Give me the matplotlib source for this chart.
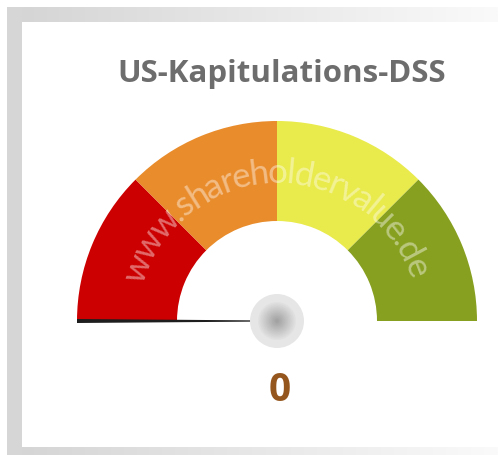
import matplotlib
matplotlib.use('Agg')
import matplotlib.pyplot as plt
import numpy as np
from matplotlib.patches import Wedge, Circle, Rectangle, Polygon
from matplotlib.font_manager import FontProperties, findfont
from matplotlib.ft2font import FT2Font
from matplotlib.colors import LinearSegmentedColormap

title = 'US-Kapitulations-DSS'
bounds = [0, 25, 50, 75, 100]
band_colors = ['#cc0000', '#e98c2c', '#e9ea4b', '#87a020']
value = 0
watermark = 'www.shareholdervalue.de'

W, H = 498, 456
cx, cy = 277, 134
r_out, r_in = 200, 100

fig = plt.figure(figsize=(W / 100, H / 100), dpi=100)
ax = fig.add_axes([0, 0, 1, 1])

# frame
cm = LinearSegmentedColormap.from_list('fr', ['#d4d4d4', '#fafafa'])
grad = np.linspace(0, 1, 256)[None, :]
ax.imshow(grad, cmap=cm, extent=[7, W, 433, 448], aspect='auto', zorder=1)
ax.imshow(grad, cmap=cm, extent=[7, W, 0, 8], aspect='auto', zorder=1)
ax.add_patch(Rectangle((7, 0), 15, 448, color='#d6d6d6', lw=0, zorder=1))

def ang(v):
    return 180 - v / 100 * 180

for i, c in enumerate(band_colors):
    ax.add_patch(Wedge((cx, cy), r_out, ang(bounds[i + 1]), ang(bounds[i]),
                       width=r_out - r_in, color=c, lw=0, zorder=2))

# watermark, one character at a time along the arc
wm_family = 'Lato'
fp = FontProperties(family=wm_family)
font = FT2Font(findfont(fp))
font.set_size(1, 72)
adv = [font.load_char(ord(ch)).linearHoriAdvance / 65536 for ch in watermark]
r_base = 139
t0 = np.radians(164)
span = np.radians(146)
em_px = 35
step = span * r_base / sum(adv)   # letters a bit tighter than the font's own spacing
pos = 0.0
for ch, a_em in zip(watermark, adv):
    mid = (pos + a_em / 2) * step
    th = t0 - mid / r_base
    ax.text(cx + r_base * np.cos(th), cy + r_base * np.sin(th), ch,
            family=wm_family, fontsize=em_px * 72 / 100, color='white', alpha=0.42,
            ha='center', va='baseline', rotation=np.degrees(th) - 90,
            rotation_mode='anchor', zorder=3)
    pos += a_em

# needle
a = np.radians(ang(value))
ux, uy = np.cos(a), np.sin(a)
px, py = -uy, ux
tip = r_out
needle = [(cx + ux * tip + px * 2, cy + uy * tip + py * 2),
          (cx + ux * 20 + px * 0.6, cy + uy * 20 + py * 0.6),
          (cx + ux * 20 - px * 0.6, cy + uy * 20 - py * 0.6),
          (cx + ux * tip - px * 2, cy + uy * tip - py * 2)]
ax.add_patch(Polygon(needle, closed=True, color='#1e1e1e', lw=0, zorder=4))

# hub
ax.add_patch(Circle((cx, cy), 27, color='#e6e6e6', lw=0, zorder=5))
hub_cols = LinearSegmentedColormap.from_list('hub', ['#e2e2e2', '#a2a2a2'])
for k, r in enumerate(np.linspace(19, 1, 30)):
    ax.add_patch(Circle((cx, cy), r, color=hub_cols(k / 29), lw=0, zorder=6))

ax.text(282, 374, title, ha='center', va='baseline', fontsize=22.5,
        fontweight='bold', color='#6d6d6d', family='Open Sans', zorder=7)
ax.text(280, 55, str(value), ha='center', va='baseline', fontsize=28,
        fontweight='bold', color='#95561e', family='Open Sans', zorder=7)

ax.set_xlim(0, W)
ax.set_ylim(0, H)
ax.axis('off')
fig.savefig('out.png', dpi=100, facecolor='white')
